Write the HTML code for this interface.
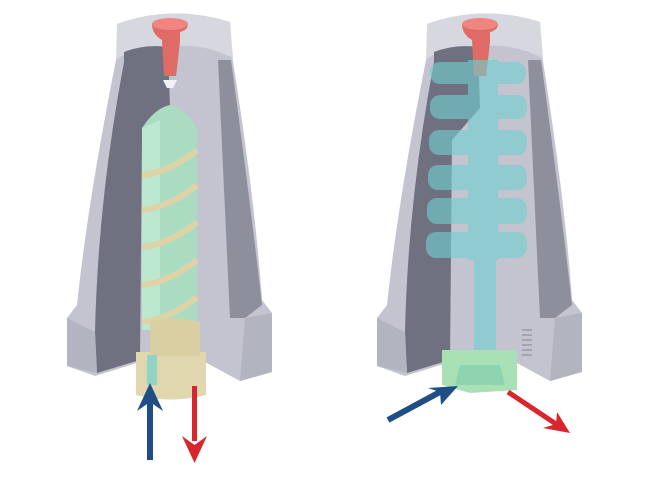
<!DOCTYPE html>
<html><head><style>
html,body{margin:0;padding:0;background:#fff;width:650px;height:483px;overflow:hidden}
</style></head><body>
<svg width="650" height="483" viewBox="0 0 650 483" xmlns="http://www.w3.org/2000/svg">
<defs>
<g id="body">
  <path d="M117,24 Q172,4 230,22 L232,55 Q255,200 262,300 L272,313 L272,372 L240,381 L205,362 L140,362 L95,376 L67,366 L67,318 L77,305 Q88,200 117,55 Z" fill="#c3c4cf"/>
  <path d="M117,24 Q172,4 230,22 L233,58 Q200,42 172,47 Q140,42 116,60 Z" fill="#d6d7df"/>
  <path d="M124,52 Q145,44 168,47 L170,108 L142,140 L140,360 L97,373 L95,332 Q98,200 124,62 Z" fill="#6f7181"/>
  <path d="M218,60 L231,60 Q250,200 262,305 L245,318 L230,318 Z" fill="#8d8f9d"/>
  <path d="M67,318 L95,332 L97,373 L67,366 Z" fill="#b2b4c0"/>
  <path d="M272,313 L245,318 L240,381 L272,372 Z" fill="#b2b4c0"/>
  <path d="M152,24 Q170,16 188,24 Q188,30 180,32 L180,42 L176,76 L164,76 L162,40 Q152,34 152,24 Z" fill="#e06a66"/>
  <ellipse cx="170" cy="24" rx="18" ry="6" fill="#f08580"/>
</g>
</defs>
<use href="#body"/>
<!-- left internals -->
<path d="M163,80 L177,80 L173,88 L167,88 Z" fill="#f2f2f4"/>
<path d="M142,128 Q155,108 170,105 Q185,108 197,128 L197,330 L142,330 Z" fill="#a9dcc0"/>
<path d="M142,128 L160,120 L160,330 L142,330 Z" fill="#bde8d0"/>
<g fill="none" stroke="#ddd3a6" stroke-width="6">
<path d="M142,175 Q170,172 197,150"/>
<path d="M142,210 Q170,207 197,185"/>
<path d="M142,247 Q170,244 197,222"/>
<path d="M142,285 Q170,282 197,260"/>
<path d="M142,322 Q170,319 197,297"/>
</g>
<path d="M136,352 L206,352 L206,395 Q170,404 136,395 Z" fill="#e0d7ae"/>
<path d="M150,322 Q175,315 200,322 L200,356 L150,356 Z" fill="#d9cfa2"/>
<path d="M147,355 L157,355 L157,385 L147,385 Z" fill="#8fd3c6"/>
<!-- left arrows -->
<rect x="147" y="400" width="6" height="60" fill="#1f4e86"/>
<path d="M150,383 L137,411 L150,402 L163,411 Z" fill="#1f4e86"/>
<rect x="192" y="386" width="5" height="55" fill="#d9262e"/>
<path d="M194.5,463 L182,436 L194.5,445 L207,436 Z" fill="#d9262e"/>
<!-- right object -->
<g transform="translate(310,0)"><use href="#body"/></g>
<g opacity="0.6" fill="#6fd2d0">
<rect x="430" y="62" width="96" height="22" rx="10"/>
<rect x="430" y="95" width="97" height="24" rx="10"/>
<rect x="429" y="130" width="98" height="25" rx="10"/>
<rect x="428" y="165" width="99" height="25" rx="10"/>
<rect x="427" y="198" width="100" height="26" rx="10"/>
<rect x="426" y="232" width="101" height="26" rx="10"/>
<rect x="468" y="60" width="30" height="200"/>
<rect x="474" y="255" width="22" height="100"/>
<rect x="494" y="245" width="30" height="12" rx="5"/>
</g>
<path d="M442,350 L517,350 L517,390 L470,393 L442,385 Z" fill="#a9e0b6"/>
<path d="M460,365 L500,365 L505,385 L455,385 Z" fill="#8fd4b0"/>
<g stroke="#9a9aa6" stroke-width="1.5"><path d="M522,330 h10 M522,335 h10 M522,340 h10 M522,345 h10 M522,350 h10 M522,355 h10"/></g>
<!-- right arrows -->
<path d="M388,420 L440,392" stroke="#1f4e86" stroke-width="6"/>
<path d="M458,386 L428,388 L440,392 L441,405 Z" fill="#1f4e86"/>
<path d="M508,392 L556,424" stroke="#d9262e" stroke-width="5"/>
<path d="M570,433 L543,428 L556,424 L557,412 Z" fill="#d9262e"/>
</svg>
</body></html>
